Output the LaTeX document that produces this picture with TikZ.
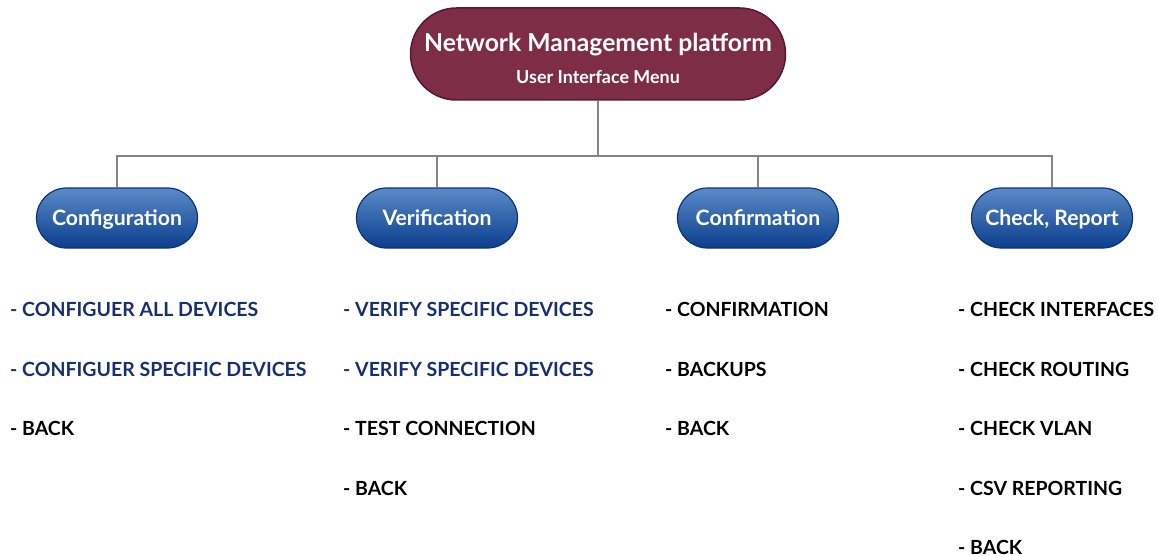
\documentclass[tikz,border=0pt]{standalone}
\usepackage{fontspec}
\setmainfont{Lato}
\usetikzlibrary{shapes.misc}
\definecolor{rootfill}{HTML}{7E2D47}
\definecolor{rootline}{HTML}{5A1830}
\definecolor{boxtop}{HTML}{5A8AC8}
\definecolor{boxbot}{HTML}{0B3E8E}
\definecolor{boxline}{HTML}{0A3478}
\definecolor{linkgray}{HTML}{858585}
\definecolor{navy}{HTML}{17306E}
\tikzset{
  rootbox/.style={rounded rectangle, draw=rootline, line width=1.5pt, fill=rootfill,
    minimum width=375pt, minimum height=92pt, text=white, align=center, inner sep=0pt,
    font=\bfseries},
  catbox/.style={rounded rectangle, draw=boxline, line width=1.2pt,
    top color=boxtop, bottom color=boxbot, minimum width=161pt, minimum height=60pt,
    text=white, font=\bfseries\fontsize{21.2}{24}\selectfont, inner sep=0pt,
    text height=14pt, text depth=0pt},
  link/.style={draw=linkgray, line width=2.5pt},
  item/.style={anchor=west, inner sep=0pt, font=\bfseries\fontsize{19.5}{22}\selectfont},
  hi/.style={item, text=navy},
  lo/.style={item, text=black}
}
\begin{document}
\begin{tikzpicture}[x=1pt,y=-1pt]
\useasboundingbox (0,0) rectangle (1158,556);
% root of the menu tree
\node[rootbox] (root) at (598,54) {\fontsize{24.7}{28}\selectfont\rule{0pt}{27pt}Network Management platform\\[14pt]
  \fontsize{17.9}{20}\selectfont User Interface Menu};
% menu categories
\node[catbox] (conf) at (117,218) {Configuration};
\node[catbox] (veri) at (437,218) {Verification};
\node[catbox] (cfrm) at (758,218) {Confirmation};
\node[catbox] (chk)  at (1052,218) {Check, Report};
% tree connectors
\coordinate (bus) at (598,156);
\draw[link] (root.south) -- (bus);
\draw[link] (conf.north) -- (conf.north |- bus) -- (chk.north |- bus) -- (chk.north);
\draw[link] (veri.north) -- (veri.north |- bus);
\draw[link] (cfrm.north) -- (cfrm.north |- bus);
% menu entries
\node[hi] (c1) at (10,309) {- CONFIGUER ALL DEVICES};
\node[hi] (c2) at (10,369) {- CONFIGUER SPECIFIC DEVICES};
\node[lo] (c3) at (10,428) {- BACK};
\node[hi] (v1) at (343,309) {- VERIFY SPECIFIC DEVICES};
\node[hi] (v2) at (343,369) {- VERIFY SPECIFIC DEVICES};
\node[lo] (v3) at (343,428) {- TEST CONNECTION};
\node[lo] (v4) at (343,488) {- BACK};
\node[lo] (f1) at (665,309) {- CONFIRMATION};
\node[lo] (f2) at (665,369) {- BACKUPS};
\node[lo] (f3) at (665,428) {- BACK};
\node[lo] (k1) at (958,309) {- CHECK INTERFACES};
\node[lo] (k2) at (958,369) {- CHECK ROUTING};
\node[lo] (k3) at (958,428) {- CHECK VLAN};
\node[lo] (k4) at (958,488) {- CSV REPORTING};
\node[lo] (k5) at (958,547) {- BACK};
\end{tikzpicture}
\end{document}
